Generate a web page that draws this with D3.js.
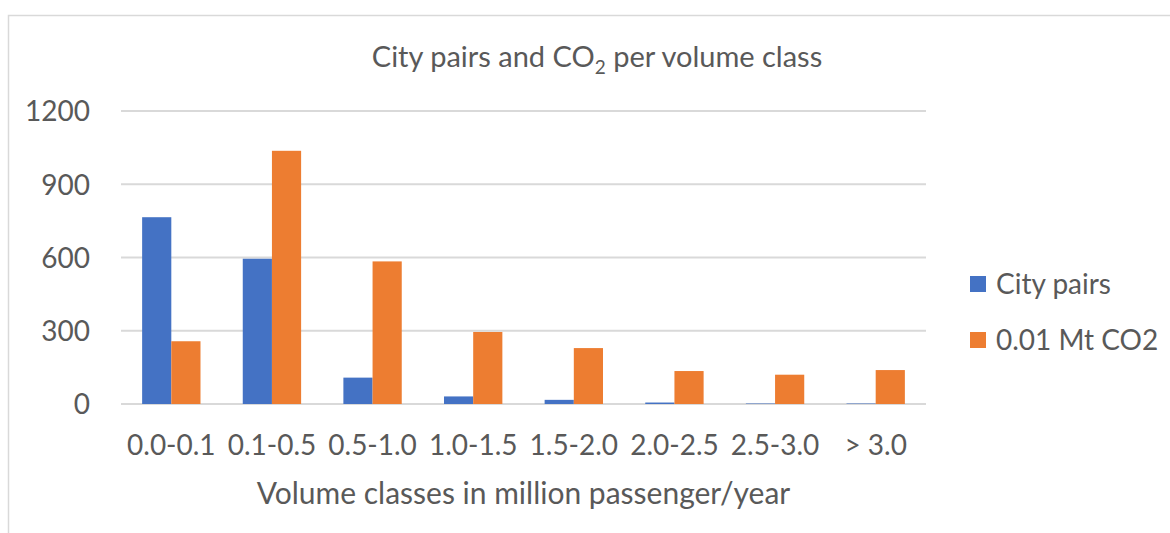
<!DOCTYPE html>
<html>
<head>
<meta charset="utf-8">
<script src="https://cdn.jsdelivr.net/npm/d3@7"></script>
<style>
  body { margin: 0; background: #fff; }
  text { font-family: Lato, "Open Sans", sans-serif; fill: #595959; }
</style>
</head>
<body>
<div id="chart"></div>
<script>
// chart data
const categories = ["0.0-0.1", "0.1-0.5", "0.5-1.0", "1.0-1.5", "1.5-2.0", "2.0-2.5", "2.5-3.0", "> 3.0"]
const seriesNames = ["City pairs", "0.01 Mt CO2"]
const cityPairs = [765, 595, 108, 31, 17, 6, 2, 2]
const co2 = [257, 1037, 584, 295, 229, 135, 120, 139]
const yTicks = [0, 300, 600, 900, 1200]
const colors = ["#4472C4", "#ED7D31"]

let width = 1170, height = 533
let margin = {top: 111, right: 244, bottom: 129, left: 121}

let svg = d3.select("#chart")
            .append("svg")
                .attr("width", width)
                .attr("height", height)

// outer frame
svg.append("rect")
    .attr("x", 8.5).attr("y", 15.5)
    .attr("width", 1170).attr("height", 600)
    .attr("fill", "none")
    .attr("stroke", "#d9d9d9")
    .attr("stroke-width", 1.5)

let x = d3.scaleBand()
            .domain(categories)
            .range([margin.left, width - margin.right])
            .paddingInner(0.42)
            .paddingOuter(0.21)
let xSeries = d3.scaleBand()
            .domain(seriesNames)
            .range([0, x.bandwidth()])
let y = d3.scaleLinear()
            .domain([0, 1200])
            .range([height - margin.bottom, margin.top])

// gridlines
svg.append("g")
    .selectAll("line")
    .data(yTicks)
    .enter().append("line")
        .attr("x1", margin.left)
        .attr("x2", width - margin.right)
        .attr("y1", d => y(d))
        .attr("y2", d => y(d))
        .attr("stroke", "#d9d9d9")
        .attr("stroke-width", 2)

// y axis labels
let yAxis = d3.axisLeft(y).tickValues(yTicks).tickFormat(d3.format("d")).tickSize(0).tickPadding(0)
svg.append("g")
    .attr("transform", `translate(${margin.left - 31},0)`)
    .call(yAxis)
    .call(g => g.select(".domain").remove())
    .selectAll("text")
        .attr("font-size", 28)
        .attr("dy", "0.35em")

// x axis labels
let xAxis = d3.axisBottom(x).tickSize(0).tickPadding(0)
svg.append("g")
    .attr("transform", `translate(0,${y(0) + 31})`)
    .call(xAxis)
    .call(g => g.select(".domain").remove())
    .selectAll("text")
        .attr("font-size", 28)
        .attr("dy", "0.71em")

// bars
let data = categories.map((c, i) => ({cat: c, values: [cityPairs[i], co2[i]]}))
let groups = svg.append("g")
    .selectAll("g")
    .data(data)
    .enter().append("g")
        .attr("transform", d => `translate(${x(d.cat)},0)`)
groups.selectAll("rect")
    .data(d => d.values.map((v, j) => ({name: seriesNames[j], v: v, j: j})))
    .enter().append("rect")
        .attr("x", d => xSeries(d.name))
        .attr("y", d => y(d.v))
        .attr("width", xSeries.bandwidth())
        .attr("height", d => y(0) - y(d.v))
        .attr("fill", d => colors[d.j])

// axis title
svg.append("text")
    .attr("x", (margin.left + width - margin.right) / 2)
    .attr("y", 504)
    .attr("text-anchor", "middle")
    .attr("font-size", 30)
    .text("Volume classes in million passenger/year")

// chart title
let title = svg.append("text")
    .attr("x", 597)
    .attr("y", 67)
    .attr("text-anchor", "middle")
    .attr("font-size", 29)
title.append("tspan").text("City pairs and CO")
title.append("tspan").attr("font-size", 19).attr("dy", 7).text("2")
title.append("tspan").attr("dy", -7).text(" per volume class")

// legend
let legend = svg.append("g")
    .selectAll("g")
    .data(seriesNames)
    .enter().append("g")
        .attr("transform", (d, i) => `translate(970,${276 + i * 56})`)
legend.append("rect")
    .attr("width", 16)
    .attr("height", 16)
    .attr("fill", (d, i) => colors[i])
legend.append("text")
    .attr("x", 26)
    .attr("y", 8)
    .attr("dy", "0.35em")
    .attr("font-size", 28)
    .text(d => d)
</script>
</body>
</html>
